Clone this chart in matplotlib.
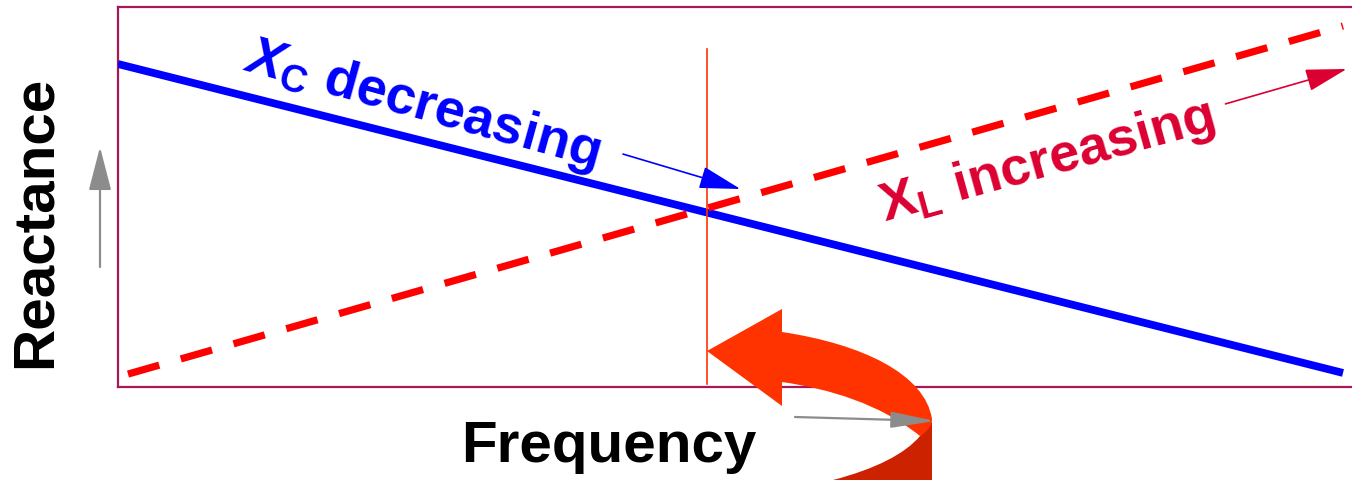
import matplotlib
matplotlib.use("Agg")
import matplotlib.pyplot as plt
from matplotlib.patches import FancyArrowPatch, PathPatch, Polygon
from matplotlib.path import Path
from matplotlib.transforms import Affine2D

# Reactance vs frequency for a series LC circuit (arbitrary units)
freq_c = [0.0, 9.8]
xc = [8.5, 0.37]          # capacitive reactance, falls with frequency
freq_l = [0.08, 9.8]
xl = [0.34, 9.5]          # inductive reactance, rises with frequency
f_res = 4.71              # where the two curves meet
res_span = [0.08, 8.9]

W, H = 1352, 481
BLUE = "#0000FF"
RED = "#FF0000"
CRIMSON = "#DC0032"
ORANGE = "#FF3300"
DARK_ORANGE = "#CC2200"
FRAME = "#A5185A"
GREY = "#8C8C8C"

plt.rcParams["font.family"] = ["Liberation Sans", "DejaVu Sans"]
plt.rcParams["mathtext.fontset"] = "custom"
plt.rcParams["mathtext.rm"] = "Liberation Sans:bold"
plt.rcParams["mathtext.bf"] = "Liberation Sans:bold"
plt.rcParams["mathtext.it"] = "Liberation Sans:bold:italic"

fig = plt.figure(figsize=(W / 100, H / 100), dpi=100)
ax = fig.add_axes([118 / W, (H - 388) / H, 1250 / W, 380 / H])
ax.set_xlim(0, 10)
ax.set_ylim(0, 10)
ax.set_xticks([])
ax.set_yticks([])
for side in ["left", "top", "bottom"]:
    ax.spines[side].set_color(FRAME)
    ax.spines[side].set_linewidth(1.6)
ax.spines["right"].set_visible(False)

# pixel coordinates measured from the top-left corner of the figure
px = Affine2D().scale(1 / W, -1 / H).translate(0, 1) + fig.transFigure

ax.plot(freq_c, xc, color=BLUE, lw=5.6, solid_capstyle="butt", zorder=3)
ax.plot(freq_l, xl, color=RED, lw=5.2, dashes=(4.5, 3.1), zorder=3)
ax.plot([f_res, f_res], res_span, color=ORANGE, lw=1.2, zorder=4)

ax.text(2.43, 7.45, r"$\mathit{X}_{\mathrm{C}}$ decreasing", color=BLUE,
        fontsize=39, fontweight="bold", rotation=-15.5,
        rotation_mode="anchor", ha="center", va="center")
ax.text(7.43, 5.96, r"$\mathrm{X}_{\mathrm{L}}$ increasing", color=CRIMSON,
        fontsize=39, fontweight="bold", rotation=15.5,
        rotation_mode="anchor", ha="center", va="center")

ax.add_patch(FancyArrowPatch((4.04, 6.13), (4.98, 5.21),
                             arrowstyle="-|>,head_length=26,head_width=7",
                             color=BLUE, lw=1.2, shrinkA=0, shrinkB=0,
                             zorder=5))
ax.add_patch(FancyArrowPatch((8.86, 7.45), (9.83, 8.37),
                             arrowstyle="-|>,head_length=26,head_width=7",
                             color=CRIMSON, lw=1.2, shrinkA=0, shrinkB=0,
                             zorder=5))

fig.text(36 / W, 1 - 222 / H, "Reactance", fontsize=42, fontweight="bold",
         rotation=90, ha="center", va="center")
fig.text(609 / W, 1 - 447 / H, "Frequency", fontsize=42, fontweight="bold",
         ha="center", va="center")

# curved "go back" arrow under the resonance line
back = Path([(920, 437), (932, 423), (932, 481), (833, 481),
             (875, 470), (905, 455), (920, 437), (920, 437)],
            [Path.MOVETO, Path.LINETO, Path.LINETO, Path.LINETO,
             Path.CURVE4, Path.CURVE4, Path.CURVE4, Path.CLOSEPOLY])
fig.add_artist(PathPatch(back, transform=px, facecolor=DARK_ORANGE,
                         edgecolor="none", clip_on=False))
band = Path([(782, 333), (862, 345), (925, 375), (932, 420),
             (932, 428), (926, 433), (920, 437),
             (880, 405), (830, 390), (782, 383), (782, 333)],
            [Path.MOVETO, Path.CURVE4, Path.CURVE4, Path.CURVE4,
             Path.CURVE4, Path.CURVE4, Path.CURVE4,
             Path.CURVE4, Path.CURVE4, Path.CURVE4, Path.CLOSEPOLY])
fig.add_artist(PathPatch(band, transform=px, facecolor=ORANGE,
                         edgecolor="none", clip_on=False))
fig.add_artist(Polygon([(707, 352), (782, 310), (782, 407)], closed=True,
                       transform=px, facecolor=ORANGE, edgecolor="none",
                       clip_on=False))

# grey direction arrows beside the axis labels
fig.add_artist(FancyArrowPatch((100, 268), (100, 148), transform=px,
                               arrowstyle="-|>,head_length=27,head_width=7",
                               color=GREY, lw=1.6, shrinkA=0, shrinkB=0))
fig.add_artist(FancyArrowPatch((795, 418), (935, 422), transform=px,
                               arrowstyle="-|>,head_length=27,head_width=5",
                               color=GREY, lw=1.6, shrinkA=0, shrinkB=0))

fig.savefig("out.png", dpi=100)
